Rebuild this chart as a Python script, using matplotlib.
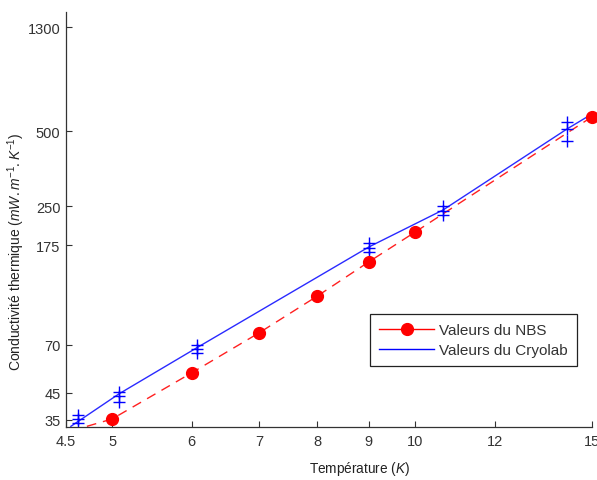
"""
Conductivite thermique : valeurs du NBS et valeurs du Cryolab (echelles log-log).
"""

import matplotlib
matplotlib.use("Agg")
import matplotlib.pyplot as plt
from matplotlib.lines import Line2D

plt.rcParams["font.family"] = ["Liberation Sans", "DejaVu Sans"]
plt.rcParams["mathtext.fontset"] = "custom"
plt.rcParams["mathtext.it"] = "Liberation Sans:italic"
plt.rcParams["mathtext.rm"] = "Liberation Sans"

# NBS values (red circles) and the dashed red curve through them
nbs_temp = [5, 6, 7, 8, 9, 10, 15]
nbs_cond = [35.3, 54, 78, 109.5, 150, 197, 570]
nbs_line_temp = [4.72, 5, 6, 7, 8, 9, 10, 15]
nbs_line_cond = [33, 35.3, 54, 78, 109.5, 150, 197, 570]

# Cryolab measurements (blue crosses) and the blue curve
cryo_temp = [4.63, 4.63, 4.63,
             5.08, 5.08, 5.08,
             6.07, 6.07, 6.07,
             9.0, 9.0, 9.0,
             10.67, 10.67, 10.67,
             14.17, 14.17, 14.17]
cryo_cond = [36.6, 35.3, 34.0,
             45.3, 43.8, 41.4,
             69.5, 67, 65,
             178, 170, 164,
             250, 239, 230,
             542, 509, 456]
cryo_line_temp = [4.55, 5.08, 6.07, 9.0, 10.67, 14.17, 15.0]
cryo_line_cond = [33, 44.5, 68, 172, 242, 510, 585]

x_ticks = [4.5, 5, 6, 7, 8, 9, 10, 12, 15]
x_labels = ["4.5", "5", "6", "7", "8", "9", "10", "12", "15"]
y_ticks = [35, 45, 70, 175, 250, 500, 1300]
y_labels = ["35", "45", "70", "175", "250", "500", "1300"]


def main():
    """Draw the chart and save it as out.png."""
    fig = plt.figure(figsize=(5.97, 4.81), dpi=100)
    ax = fig.add_axes([0.1106, 0.1102, 0.881, 0.8634])

    ax.set_xscale("log")
    ax.set_yscale("log")

    ax.plot(nbs_line_temp, nbs_line_cond, color="#ff2020", linestyle=(0, (7, 5)),
            linewidth=1.0)
    ax.plot(nbs_temp, nbs_cond, linestyle="none", marker="o", markersize=8.5,
            color="#ff0000", clip_on=False, zorder=4)
    ax.plot(cryo_line_temp, cryo_line_cond, color="#2a2aff", linewidth=1.0)
    ax.plot(cryo_temp, cryo_cond, linestyle="none", marker="+", markersize=8,
            markeredgewidth=1.0, color="#0000ff")

    ax.set_xlim(4.5, 15)
    ax.set_ylim(32.8, 1500)
    ax.minorticks_off()
    ax.set_xticks(x_ticks)
    ax.set_xticklabels(x_labels)
    ax.set_yticks(y_ticks)
    ax.set_yticklabels(y_labels)
    ax.tick_params(direction="in", length=4, width=0.8, labelsize=10.5,
                   colors="#333333", pad=5)
    ax.tick_params(axis="y", pad=4)

    for side in ("top", "right"):
        ax.spines[side].set_visible(False)
    for side in ("left", "bottom"):
        ax.spines[side].set_color("#333333")
        ax.spines[side].set_linewidth(0.9)

    ax.set_xlabel("Température ($K$)", fontsize=9.8, color="#222222")
    ax.xaxis.set_label_coords(0.559, -0.078)
    ax.set_ylabel("Conductivité thermique ($mW.m^{-1}.K^{-1}$)", fontsize=10,
                  color="#222222")
    ax.yaxis.set_label_coords(-0.074, 0.424)

    handles = [
        Line2D([], [], color="#ff0000", linewidth=1.0, marker="o", markersize=8.5),
        Line2D([], [], color="#0000ff", linewidth=1.0),
    ]
    leg = ax.legend(handles, ["Valeurs du NBS", "Valeurs du Cryolab"],
                    loc="upper left", bbox_to_anchor=(0.578, 0.272),
                    fontsize=11, fancybox=False, framealpha=1,
                    handlelength=3.6, borderpad=0.6, labelspacing=0.4,
                    handletextpad=0.3, borderaxespad=0)
    leg.get_frame().set_edgecolor("#222222")
    leg.get_frame().set_linewidth(0.9)
    for text in leg.get_texts():
        text.set_color("#333333")

    fig.savefig("out.png", dpi=100)


if __name__ == "__main__":
    main()
